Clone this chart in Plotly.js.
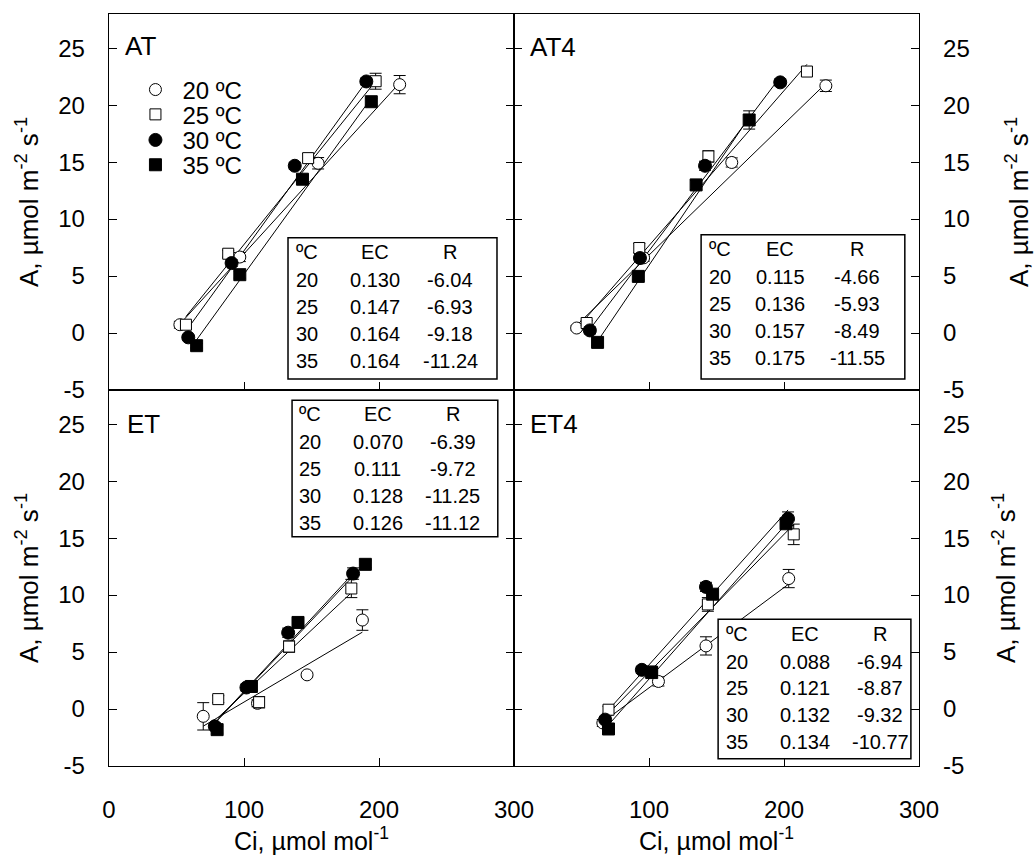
<!DOCTYPE html>
<html>
<head>
<meta charset="utf-8">
<script src="https://cdn.plot.ly/plotly-3.0.1.min.js"></script>
<style>html,body{margin:0;padding:0;background:#fff}</style>
</head>
<body>
<div id="chart" style="width:1034px;height:868px"></div>
<script>
// ---------- data ----------
const temps = ['20', '25', '30', '35'];
const legendLabels = ['20 ºC', '25 ºC', '30 ºC', '35 ºC'];
const panelNames = ['AT', 'AT4', 'ET', 'ET4'];

// AT
const AT_ci  = [[52.5, 96.9, 154.9, 215.3], [57.0, 88.3, 147.5, 197.5], [58.7, 90.8, 137.6, 190.6], [64.9, 96.9, 143.3, 194.3]];
const AT_A   = [[0.73, 6.67, 14.9, 21.8], [0.73, 6.96, 15.35, 22.1], [-0.38, 6.14, 14.68, 22.08], [-1.11, 5.12, 13.5, 20.3]];
const AT_err = [[0.3, 0.4, 0.5, 0.8], [0.3, 0.3, 0.4, 0.7], [0.2, 0.3, 0.3, 0.3], [0.2, 0.3, 0.3, 0.3]];
const AT_EC  = [0.130, 0.147, 0.164, 0.164];
const AT_R   = [-6.04, -6.93, -9.18, -11.24];

// AT4
const AT4_ci  = [[46.4, 96.0, 161.3, 231.0], [53.8, 92.8, 144.0, 217.0], [56.2, 93.3, 141.5, 197.2], [61.9, 92.1, 134.9, 174.2]];
const AT4_A   = [[0.44, 6.6, 14.97, 21.7], [0.88, 7.46, 15.5, 22.95], [0.23, 6.58, 14.68, 22.0], [-0.82, 4.97, 13.0, 18.7]];
const AT4_err = [[0.2, 0.3, 0.4, 0.5], [0.2, 0.4, 0.5, 0.4], [0.3, 0.3, 0.4, 0.3], [0.3, 0.3, 0.4, 0.8]];
const AT4_EC  = [0.115, 0.136, 0.157, 0.175];
const AT4_R   = [-4.66, -5.93, -8.49, -11.55];

// ET
const ET_ci  = [[69.8, 110.0, 146.7, 187.7], [80.9, 111.2, 133.4, 179.5], [78.4, 101.8, 132.7, 180.8], [80.1, 105.5, 140.0, 189.9]];
const ET_A   = [[-0.64, 0.5, 3.0, 7.81], [0.87, 0.6, 5.48, 10.58], [-1.52, 1.89, 6.7, 11.89], [-1.81, 1.98, 7.6, 12.7]];
const ET_err = [[1.2, 0.3, 0.2, 0.9], [0.3, 0.5, 0.5, 0.8], [0.3, 0.3, 0.4, 0.5], [0.3, 0.3, 0.3, 0.3]];
const ET_EC  = [0.070, 0.111, 0.128, 0.126];
const ET_R   = [-6.39, -9.72, -11.25, -11.12];

// ET4
const ET4_ci  = [[65.8, 107.0, 142.2, 203.5], [70.0, 102.0, 143.6, 207.2], [67.5, 94.7, 142.2, 203.0], [70.0, 102.0, 147.1, 201.5]];
const ET4_A   = [[-1.22, 2.42, 5.54, 11.45], [-0.06, 3.3, 9.18, 15.33], [-0.93, 3.44, 10.72, 16.7], [-1.75, 3.2, 10.08, 16.26]];
const ET4_err = [[0.3, 0.4, 0.8, 0.8], [0.3, 0.4, 0.6, 0.9], [0.2, 0.3, 0.4, 0.6], [0.3, 0.3, 0.4, 0.4]];
const ET4_EC  = [0.088, 0.121, 0.132, 0.134];
const ET4_R   = [-6.94, -8.87, -9.32, -10.77];

const xTickVals = [0, 100, 200, 300];
const yTickVals = [-5, 0, 5, 10, 15, 20, 25];
const yTickText = ['-5', '0', '5', '10', '15', '20', '25'];

// ---------- styling ----------
const FONT = 'Liberation Sans, Arial, Helvetica, sans-serif';
const markerStyles = [
  {symbol: 'circle', size: 12, color: '#ffffff', line: {color: '#000', width: 1}},
  {symbol: 'square', size: 11, color: '#ffffff', line: {color: '#000', width: 1}},
  {symbol: 'circle', size: 13, color: '#000000', line: {color: '#000', width: 1}},
  {symbol: 'square', size: 12, color: '#000000', line: {color: '#000', width: 1}}
];
const legendIds = ['legend', 'legend2', 'legend3', 'legend4'];
const legendY = [0.899, 0.866, 0.832, 0.799];

const panels = [
  {name: panelNames[0], ci: AT_ci, A: AT_A, err: AT_err, EC: AT_EC, R: AT_R, xa: 'x', ya: 'y'},
  {name: panelNames[1], ci: AT4_ci, A: AT4_A, err: AT4_err, EC: AT4_EC, R: AT4_R, xa: 'x2', ya: 'y2'},
  {name: panelNames[2], ci: ET_ci, A: ET_A, err: ET_err, EC: ET_EC, R: ET_R, xa: 'x3', ya: 'y3'},
  {name: panelNames[3], ci: ET4_ci, A: ET4_A, err: ET4_err, EC: ET4_EC, R: ET4_R, xa: 'x4', ya: 'y4'}
];

// table layout (fractions of each panel's domain)
const tableLayout = [
  {box: [0.442, 0.958, 0.029, 0.405], rows: [0.368, 0.293, 0.221, 0.149, 0.077], cols: [0.457, 0.657, 0.842]},
  {box: [0.462, 0.965, 0.029, 0.413], rows: [0.376, 0.301, 0.229, 0.157, 0.085], cols: [0.477, 0.657, 0.847]},
  {box: [0.452, 0.960, 0.610, 0.973], rows: [0.936, 0.862, 0.790, 0.719, 0.647], cols: [0.464, 0.664, 0.849]},
  {box: [0.504, 0.980, 0.019, 0.390], rows: [0.350, 0.276, 0.207, 0.135, 0.064], cols: [0.519, 0.719, 0.904]}
];
const labelPos = [[0.035, 0.915], [0.035, 0.912], [0.040, 0.910], [0.035, 0.910]];

const traces = [];
// regression lines first (under markers)
panels.forEach(p => {
  for (let i = 0; i < 4; i++) {
    const xmin = Math.min(...p.ci[i]), xmax = Math.max(...p.ci[i]);
    traces.push({
      type: 'scatter', mode: 'lines', xaxis: p.xa, yaxis: p.ya,
      x: [xmin, xmax], y: [p.EC[i] * xmin + p.R[i], p.EC[i] * xmax + p.R[i]],
      line: {color: '#000', width: 1}, showlegend: false, hoverinfo: 'skip'
    });
  }
});
panels.forEach((p, pi) => {
  for (let i = 0; i < 4; i++) {
    traces.push({
      type: 'scatter', mode: 'markers', xaxis: p.xa, yaxis: p.ya,
      x: p.ci[i], y: p.A[i],
      error_y: {type: 'data', array: p.err[i], visible: true, color: '#000', thickness: 1, width: 6},
      marker: markerStyles[i],
      name: legendLabels[i],
      legend: legendIds[i],
      showlegend: pi === 0
    });
  }
});

const annotations = [];
const shapes = [];
panels.forEach((p, pi) => {
  const xr = p.xa + ' domain', yr = p.ya + ' domain';
  const tl = tableLayout[pi];
  shapes.push({type: 'rect', xref: xr, yref: yr, x0: tl.box[0], x1: tl.box[1], y0: tl.box[2], y1: tl.box[3],
    line: {color: '#000', width: 1.5}, fillcolor: 'rgba(255,255,255,1)', layer: 'above'});
  const header = ['ºC', 'EC', 'R'];
  header.forEach((h, c) => annotations.push({
    xref: xr, yref: yr, x: tl.cols[c], y: tl.rows[0], text: h, showarrow: false,
    xanchor: c === 0 ? 'left' : 'center', yanchor: 'middle', font: {size: 20, family: FONT, color: '#000'}
  }));
  for (let i = 0; i < 4; i++) {
    const cells = [temps[i], p.EC[i].toFixed(3), p.R[i].toFixed(2)];
    cells.forEach((t, c) => annotations.push({
      xref: xr, yref: yr, x: tl.cols[c], y: tl.rows[i + 1], text: t, showarrow: false,
      xanchor: c === 0 ? 'left' : 'center', yanchor: 'middle', font: {size: 20, family: FONT, color: '#000'}
    }));
  }
  annotations.push({
    xref: xr, yref: yr, x: labelPos[pi][0], y: labelPos[pi][1], text: p.name, showarrow: false,
    xanchor: 'left', yanchor: 'middle', font: {size: 26, family: FONT, color: '#000'}
  });
});

const yTitle = 'A, µmol m<sup>-2</sup> s<sup>-1</sup>';
const xTitle = 'Ci, µmol mol<sup>-1</sup>';

function xAxis(domain, anchor, labels, tickvals, title) {
  return {
    domain: domain, anchor: anchor, range: [0, 300], tickvals: tickvals, ticks: 'inside', ticklen: 8,
    tickwidth: 1, tickcolor: '#000', showline: true, linecolor: '#000', linewidth: 1.3, mirror: true,
    showgrid: false, zeroline: false, showticklabels: labels, ticklabelstandoff: 22,
    tickfont: {size: 24, family: FONT, color: '#000'},
    title: title ? {text: xTitle, font: {size: 25, family: FONT, color: '#000'}, standoff: 8} : {text: ''}
  };
}
function yAxis(domain, anchor, side, standoff) {
  return {
    domain: domain, anchor: anchor, side: side, range: [-5, 28], tickvals: yTickVals, ticktext: yTickText,
    ticks: 'inside', ticklen: 8,
    tickwidth: 1, tickcolor: '#000', showline: true, linecolor: '#000', linewidth: 1.3, mirror: 'ticks',
    showgrid: false, zeroline: false, ticklabelstandoff: 18,
    tickfont: {size: 24, family: FONT, color: '#000'},
    title: {text: yTitle, font: {size: 26, family: FONT, color: '#000'}, standoff: standoff}
  };
}

function legendAt(y) {
  return {x: 0.024, y: y, xanchor: 'left', yanchor: 'middle', bgcolor: 'rgba(0,0,0,0)',
    font: {size: 24, family: FONT, color: '#000'}, itemwidth: 44, borderwidth: 0};
}

const layout = {
  width: 1034, height: 868,
  margin: {l: 109, r: 115, t: 14, b: 102},
  paper_bgcolor: '#fff', plot_bgcolor: '#fff',
  font: {family: FONT, color: '#000'},
  showlegend: true,
  legend: legendAt(legendY[0]),
  legend2: legendAt(legendY[1]),
  legend3: legendAt(legendY[2]),
  legend4: legendAt(legendY[3]),
  xaxis: xAxis([0, 0.5], 'y', false, xTickVals, false),
  yaxis: yAxis([0.5, 1], 'x', 'left', 12),
  xaxis2: xAxis([0.5, 1], 'y2', false, xTickVals, false),
  yaxis2: yAxis([0.5, 1], 'x2', 'right', 46),
  xaxis3: xAxis([0, 0.5], 'y3', true, xTickVals, true),
  yaxis3: yAxis([0, 0.5], 'x3', 'left', 12),
  xaxis4: xAxis([0.5, 1], 'y4', true, [100, 200, 300], true),
  yaxis4: yAxis([0, 0.5], 'x4', 'right', 28),
  annotations: annotations,
  shapes: shapes
};

Plotly.newPlot('chart', traces, layout, {displayModeBar: false, staticPlot: true});
</script>
</body>
</html>
